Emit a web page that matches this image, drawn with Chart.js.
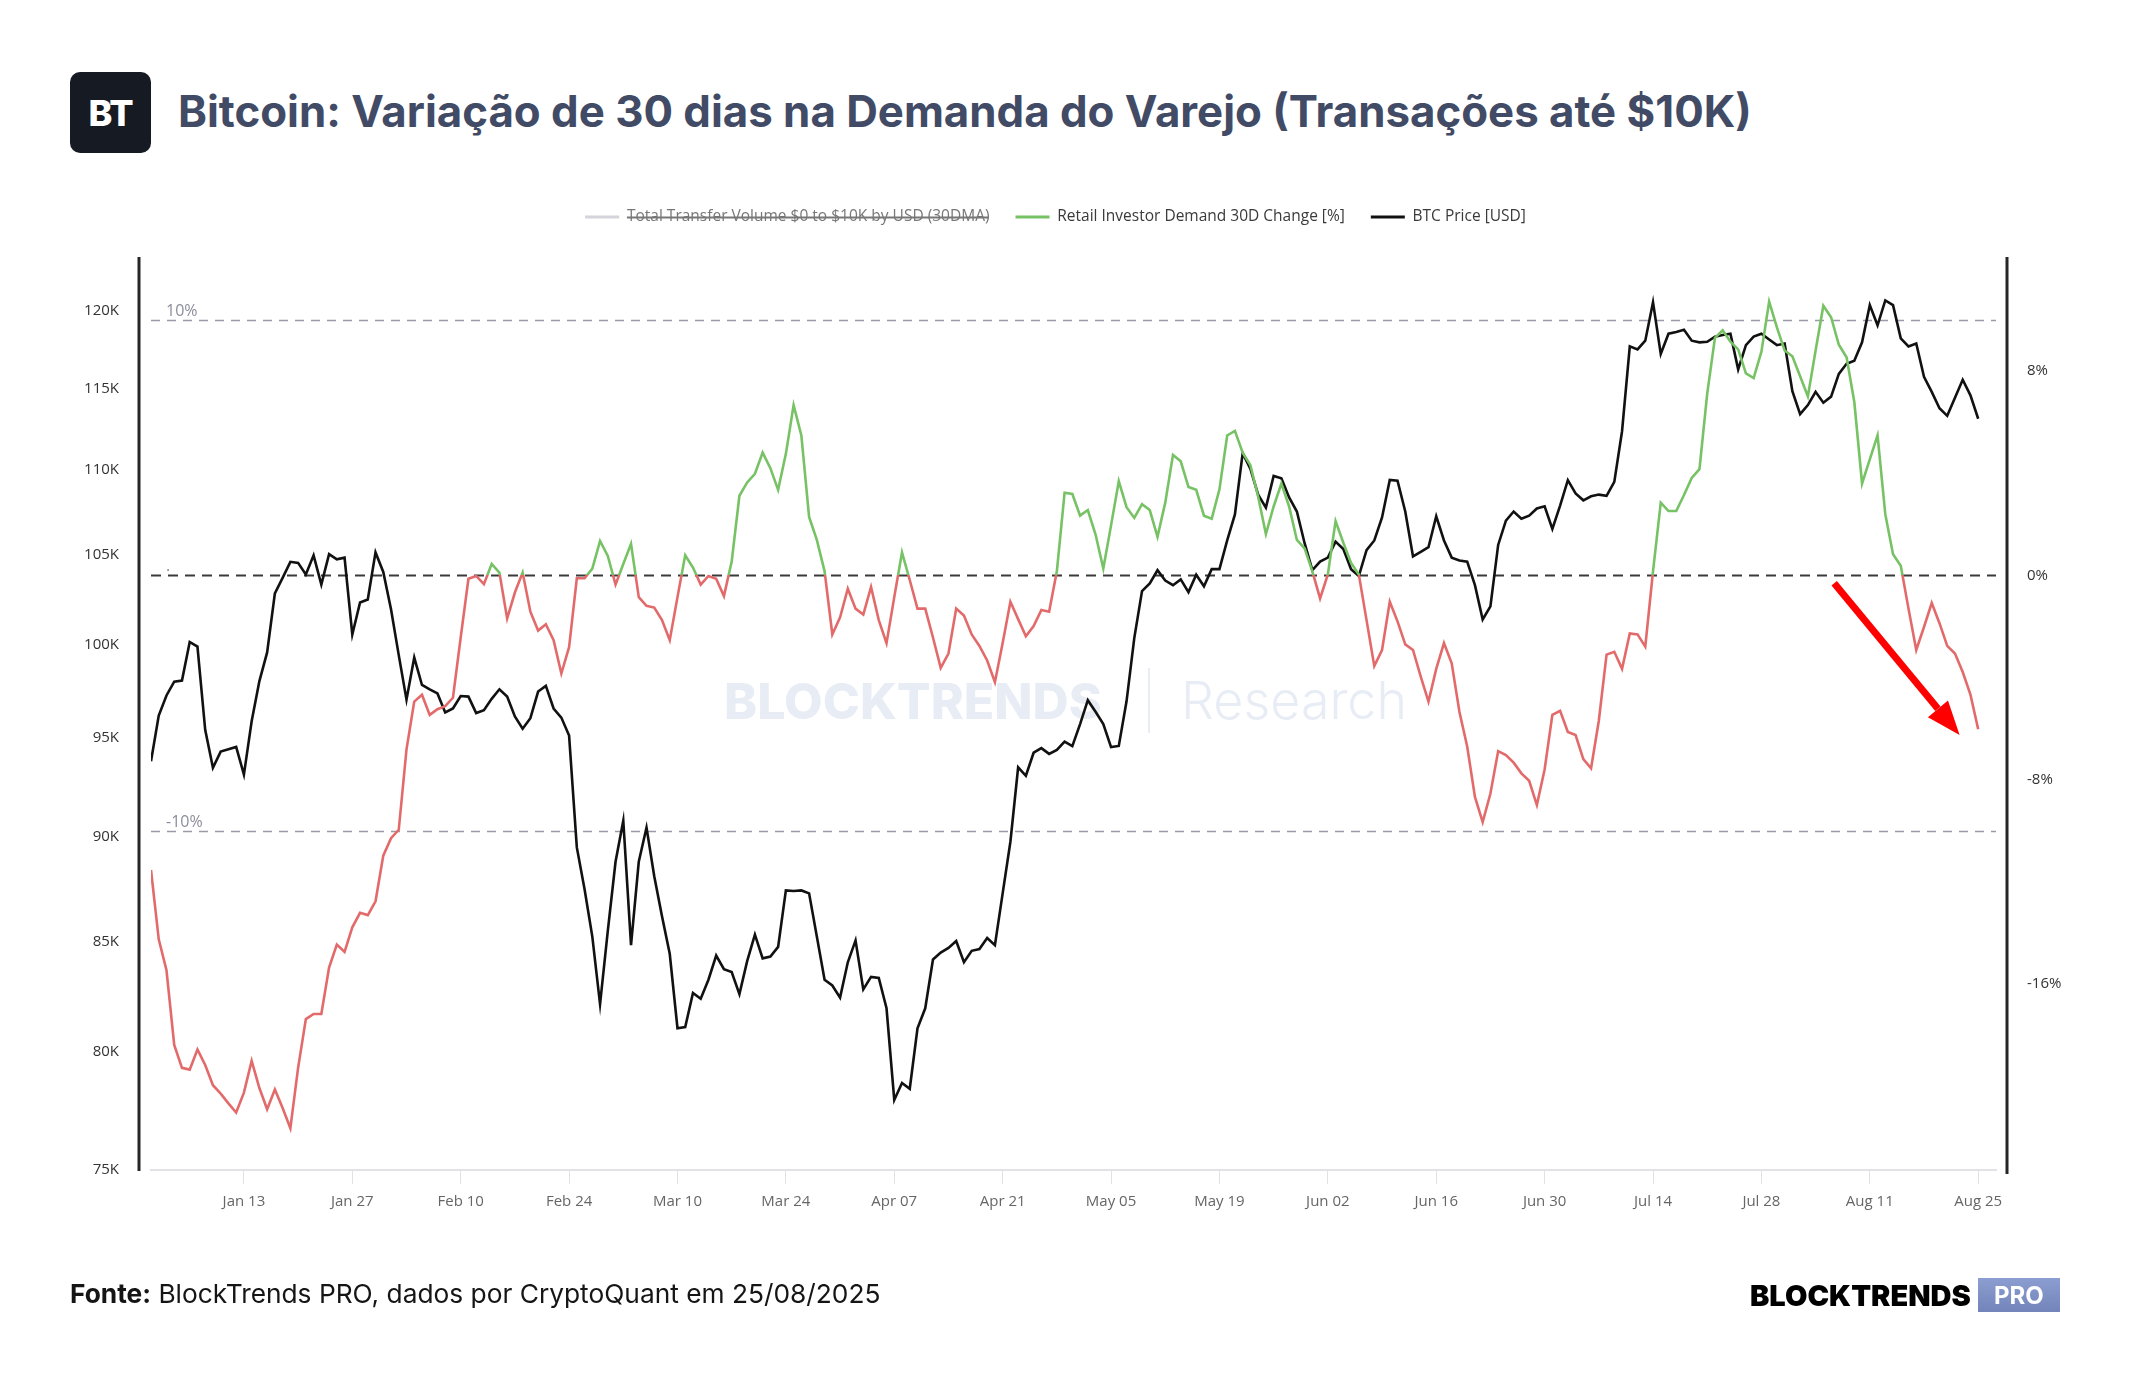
<!DOCTYPE html>
<html lang="pt-BR">
<head>
<meta charset="utf-8">
<title>Bitcoin: Variação de 30 dias na Demanda do Varejo</title>
<script src="https://cdn.jsdelivr.net/npm/chart.js@4.4.1/dist/chart.umd.min.js"></script>
<style>
  html, body { margin: 0; padding: 0; background: #fff; }
  body { width: 2144px; height: 1400px; position: relative; overflow: hidden; font-family: Inter, 'Open Sans', sans-serif; }
  #logo { position: absolute; left: 70px; top: 72px; width: 81px; height: 81px; border-radius: 10px; background: #161a22; color: #fff; font-weight: 800; font-size: 36px; display: flex; align-items: center; justify-content: center; letter-spacing: -1px; }
  #title { position: absolute; left: 178px; top: 82px; height: 60px; line-height: 60px; font-size: 43.8px; font-weight: 700; color: #424b66; white-space: nowrap; }
  .wm { position: absolute; color: #e8edf5; white-space: nowrap; line-height: 60px; }
  #wm1 { left: 724px; top: 671px; font-size: 50px; font-weight: 800; }
  #wmbar { left: 1148px; top: 668px; width: 2px; height: 65px; background: #e8edf5; }
  #wm2 { left: 1181px; top: 671px; font-size: 52px; font-weight: 300; }
  canvas { position: absolute; left: 0; top: 0; }
  #source { position: absolute; left: 70px; top: 1276px; height: 36px; line-height: 36px; font-size: 26.3px; color: #151515; white-space: nowrap; }
  #source b { font-weight: 700; }
  #brand { position: absolute; left: 1750px; top: 1278px; height: 34px; display: flex; align-items: center; }
  #brand .name { font-size: 29px; font-weight: 900; color: #000; letter-spacing: 0; }
  #brand .pro { margin-left: 7px; width: 82px; height: 34px; background: linear-gradient(#8c9dd1, #7384ba); color: #fff; font-size: 24px; font-weight: 700; display: flex; align-items: center; justify-content: center; }
</style>
</head>
<body>
<div id="logo">BT</div>
<div id="title">Bitcoin: Variação de 30 dias na Demanda do Varejo (Transações até $10K)</div>

<div class="wm" id="wm1">BLOCKTRENDS</div>
<div class="wm" id="wmbar"></div>
<div class="wm" id="wm2">Research</div>

<canvas id="chart" width="2144" height="1400"></canvas>

<div id="source"><b>Fonte:</b> BlockTrends PRO, dados por CryptoQuant em 25/08/2025</div>
<div id="brand"><span class="name">BLOCKTRENDS</span><span class="pro">PRO</span></div>

<script>
// daily values, Jan 01 2025 (day 0) to Aug 25 2025 (day 236)
const btcPrice = [
    // Jan
    93800, 96180, 97240, 97980, 98040, 100130, 99880, 95430, 93470, 94300,
    94420, 94540, 93120, 95880, 98010, 99560, 102830, 103700, 104620, 104560,
    103900, 104990, 103320, 105060, 104760, 104860, 100540, 102320, 102480, 105160,
    104040,
    // Feb
    101940, 99410, 97020, 99280, 97800, 97560, 97350, 96340, 96550,
    97210, 97180, 96310, 96460, 97060, 97570, 97180, 96130, 95490, 96040,
    97450, 97750, 96550, 96070, 95130, 89480, 87460, 85220, 82130,
    // Mar
    85490, 88780, 90800, 84820, 88780, 90460, 88080, 86170, 84420, 81050,
    81100, 82630, 82370, 83230, 84340, 83710, 83580, 82580, 84080, 85310,
    84210, 84290, 84740, 87400, 87370, 87400, 87260, 85220, 83230, 82970,
    82420,
    // Apr
    84030, 85040, 82790, 83360, 83310, 81940, 77930, 78660, 78410, 81050,
    81940, 84160, 84480, 84690, 85010, 84030, 84560, 84640, 85150, 84820,
    87260, 89760, 93490, 93060, 94240, 94480, 94180, 94390, 94820, 94580,
    // May
    95730, 96990, 96380, 95730, 94530, 94590, 96930, 100340, 102960, 103390,
    104140, 103550, 103290, 103620, 102900, 103880, 103230, 104200, 104200, 105850,
    107370, 111030, 110080, 108540, 107770, 109650, 109510, 108370, 107540, 105690,
    104140,
    // Jun
    104630, 104860, 105780, 105350, 104200, 103810, 105290, 105850, 107190, 109410,
    109370, 107540, 104930, 105190, 105460, 107260, 105850, 104860, 104700, 104630,
    103290, 101370, 102100, 105590, 107010, 107540, 107120, 107300, 107720, 107850,
    // Jul
    106520, 107890, 109400, 108610, 108200, 108440, 108540, 108470, 109300, 112370,
    117710, 117520, 118080, 120590, 117230, 118530, 118640, 118790, 118080, 117970,
    118010, 118340, 118450, 118530, 116240, 117790, 118340, 118530, 118160, 117790,
    117900,
    // Aug
    114860, 113430, 113990, 114820, 114140, 114520, 115950, 116600, 116790, 117970,
    120400, 119080, 120710, 120400, 118230, 117710, 117900, 115770, 114820, 113790,
    113320, 114450, 115580, 114600, 113140
];

const retailDemand = [
    // Jan
    -11.53, -14.25, -15.46, -18.38, -19.28, -19.35, -18.56, -19.17, -19.96, -20.29,
    -20.67, -21.03, -20.25, -19.01, -20.07, -20.90, -20.13, -20.85, -21.64, -19.28,
    -17.37, -17.17, -17.17, -15.35, -14.45, -14.74, -13.78, -13.21, -13.30, -12.76,
    -10.97,
    // Feb
    -10.29, -9.96, -6.81, -4.94, -4.67, -5.46, -5.24, -5.12, -4.79,
    -2.43, -0.13, -0.02, -0.34, 0.45, 0.11, -1.69, -0.67, 0.11, -1.42,
    -2.16, -1.91, -2.54, -3.84, -2.81, -0.11, -0.11, 0.27, 1.35,
    // Mar
    0.76, -0.36, 0.45, 1.24, -0.85, -1.19, -1.26, -1.75, -2.54, -0.85,
    0.79, 0.31, -0.36, -0.02, -0.13, -0.81, 0.54, 3.12, 3.64, 3.98,
    4.81, 4.20, 3.35, 4.76, 6.67, 5.48, 2.29, 1.39, 0.16, -2.31,
    -1.64,
    // Apr
    -0.52, -1.30, -1.53, -0.45, -1.75, -2.65, -0.85, 0.90, -0.18, -1.30,
    -1.30, -2.43, -3.62, -3.06, -1.30, -1.57, -2.31, -2.76, -3.33, -4.18,
    -2.65, -1.03, -1.71, -2.38, -1.98, -1.35, -1.42, 0.16, 3.24, 3.19,
    // May
    2.34, 2.56, 1.60, 0.27, 1.96, 3.69, 2.67, 2.25, 2.79, 2.56,
    1.51, 2.85, 4.72, 4.47, 3.46, 3.35, 2.34, 2.22, 3.37, 5.48,
    5.66, 4.81, 4.31, 3.08, 1.62, 2.70, 3.60, 2.70, 1.39, 1.06,
    0.16,
    // Jun
    -0.90, 0.04, 2.13, 1.28, 0.49, 0.04, -1.75, -3.55, -2.92, -1.03,
    -1.80, -2.70, -2.92, -3.96, -4.94, -3.66, -2.65, -3.44, -5.35, -6.70,
    -8.67, -9.66, -8.54, -6.88, -7.03, -7.33, -7.75, -8.04, -8.99, -7.60,
    // Jul
    -5.46, -5.30, -6.13, -6.25, -7.19, -7.55, -5.69, -3.10, -2.99, -3.66,
    -2.27, -2.31, -2.79, 0.16, 2.85, 2.52, 2.52, 3.15, 3.82, 4.16,
    7.12, 9.30, 9.60, 9.15, 8.85, 7.91, 7.73, 8.76, 10.72, 9.71,
    8.81,
    // Aug
    8.58, 7.80, 7.01, 8.81, 10.56, 10.11, 9.03, 8.54, 6.79, 3.60,
    4.54, 5.48, 2.40, 0.83, 0.38, -1.30, -2.92, -2.02, -1.08, -1.87,
    -2.76, -3.06, -3.78, -4.67, -6.02
];

// x axis ticks (day index from Jan 01)
const xTickDays = [12, 26, 40, 54, 68, 82, 96, 110, 124, 138, 152, 166, 180, 194, 208, 222, 236];
const xTickLabels = ['Jan 13', 'Jan 27', 'Feb 10', 'Feb 24', 'Mar 10', 'Mar 24', 'Apr 07', 'Apr 21',
    'May 05', 'May 19', 'Jun 02', 'Jun 16', 'Jun 30', 'Jul 14', 'Jul 28', 'Aug 11', 'Aug 25'];
const priceTicks = [75000, 80000, 85000, 90000, 95000, 100000, 105000, 110000, 115000, 120000];
const pctTicks = [-16, -8, 0, 8];
const refLevels = [10, 0, -10];
const refLabels = ['10%', '.', '-10%'];
// red arrow: [day, %] start and tip
const arrowFrom = [217.4, -0.31];
const arrowTo = [233.6, -6.25];

const GREEN = '#76c264';
const RED = '#e36a6a';

Chart.defaults.font.family = "'Open Sans', sans-serif";

function demandColor(context) {
    const chart = context.chart;
    const { ctx, chartArea, scales } = chart;
    if (!chartArea || !scales.y1) return GREEN;
    const zero = scales.y1.getPixelForValue(0);
    let f = (zero - chartArea.top) / (chartArea.bottom - chartArea.top);
    f = Math.min(1, Math.max(0, f));
    const g = ctx.createLinearGradient(0, chartArea.top, 0, chartArea.bottom);
    g.addColorStop(0, GREEN);
    g.addColorStop(f, GREEN);
    g.addColorStop(f, RED);
    g.addColorStop(1, RED);
    return g;
}

// extra room under the legend
const legendGap = {
    id: 'legendGap',
    beforeInit(chart) {
        const fit = chart.legend.fit;
        chart.legend.fit = function () {
            fit.call(this);
            this.height += 25.25;
        };
    }
};

// dashed 10% / 0% / -10% lines
const refLines = {
    id: 'refLines',
    beforeDatasetsDraw(chart) {
        const { ctx, chartArea, scales } = chart;
        ctx.save();
        refLevels.forEach((lvl, i) => {
            const y = Math.round(scales.y1.getPixelForValue(lvl)) + 0.5;
            ctx.beginPath();
            ctx.setLineDash(lvl === 0 ? [10, 7] : [9, 7]);
            ctx.lineWidth = lvl === 0 ? 2 : 1.5;
            ctx.strokeStyle = lvl === 0 ? '#3a3a3a' : '#9a9aa8';
            ctx.moveTo(chartArea.left, y);
            ctx.lineTo(chartArea.right, y);
            ctx.stroke();
            ctx.setLineDash([]);
            ctx.fillStyle = '#8d8d9b';
            ctx.font = "16px 'Open Sans'";
            ctx.textBaseline = 'alphabetic';
            ctx.fillText(refLabels[i], chartArea.left + 15, y - 5);
        });
        ctx.restore();
    }
};

// vertical axis lines, set a little outside the plot area
const axisLines = {
    id: 'axisLines',
    afterDraw(chart) {
        const { ctx, chartArea } = chart;
        ctx.save();
        ctx.strokeStyle = '#262626';
        ctx.lineWidth = 3;
        ctx.beginPath();
        ctx.moveTo(chartArea.left - 12, chartArea.top - 3);
        ctx.lineTo(chartArea.left - 12, chartArea.bottom + 1);
        ctx.moveTo(chartArea.right + 11, chartArea.top - 3);
        ctx.lineTo(chartArea.right + 11, chartArea.bottom + 4);
        ctx.stroke();
        ctx.restore();
    }
};

const trendArrow = {
    id: 'trendArrow',
    afterDatasetsDraw(chart) {
        const { ctx, scales } = chart;
        const x0 = scales.x.getPixelForValue(arrowFrom[0]);
        const y0 = scales.y1.getPixelForValue(arrowFrom[1]);
        const x1 = scales.x.getPixelForValue(arrowTo[0]);
        const y1 = scales.y1.getPixelForValue(arrowTo[1]);
        const ang = Math.atan2(y1 - y0, x1 - x0);
        const head = 34, half = 13;
        const bx = x1 - head * Math.cos(ang);
        const by = y1 - head * Math.sin(ang);
        ctx.save();
        ctx.strokeStyle = '#ff0000';
        ctx.fillStyle = '#ff0000';
        ctx.lineWidth = 7;
        ctx.beginPath();
        ctx.moveTo(x0, y0);
        ctx.lineTo(bx, by);
        ctx.stroke();
        ctx.beginPath();
        ctx.moveTo(x1, y1);
        ctx.lineTo(bx + half * Math.sin(ang), by - half * Math.cos(ang));
        ctx.lineTo(bx - half * Math.sin(ang), by + half * Math.cos(ang));
        ctx.closePath();
        ctx.fill();
        ctx.restore();
    }
};

const ctx = document.getElementById('chart').getContext('2d');
new Chart(ctx, {
    type: 'line',
    data: {
        datasets: [
            {
                label: 'Total Transfer Volume $0 to $10K by USD (30DMA)',
                data: [],
                hidden: true,
                borderColor: '#d4d4da',
                yAxisID: 'y1'
            },
            {
                label: 'Retail Investor Demand 30D Change [%]',
                data: retailDemand.map((v, i) => ({ x: i, y: v })),
                borderColor: demandColor,
                borderWidth: 2.6,
                pointRadius: 0,
                tension: 0,
                yAxisID: 'y1'
            },
            {
                label: 'BTC Price [USD]',
                data: btcPrice.map((v, i) => ({ x: i, y: v })),
                borderColor: '#111111',
                borderWidth: 2.6,
                pointRadius: 0,
                tension: 0,
                yAxisID: 'y'
            }
        ]
    },
    options: {
        responsive: false,
        animation: false,
        events: [],
        layout: { padding: { left: 10, right: 43, top: 183.25, bottom: 170 } },
        plugins: {
            tooltip: { enabled: false },
            legend: {
                position: 'top',
                labels: {
                    usePointStyle: true,
                    pointStyle: 'line',
                    pointStyleWidth: 34,
                    padding: 26,
                    color: '#3a3a3a',
                    font: { size: 15.5 },
                    generateLabels(chart) {
                        const items = Chart.defaults.plugins.legend.labels.generateLabels(chart);
                        items.forEach(it => {
                            it.lineWidth = 3;
                            if (it.hidden) it.fontColor = '#777';
                        });
                        return items;
                    }
                }
            }
        },
        scales: {
            x: {
                type: 'linear',
                min: 0,
                max: 238.3,
                afterBuildTicks: s => { s.ticks = xTickDays.map(v => ({ value: v })); },
                afterFit: s => { s.height = 60; },
                grid: { drawOnChartArea: false, drawTicks: true, tickLength: 14, color: '#e2e2e6', lineWidth: 1 },
                border: { display: true, color: '#e2e2e6', width: 2 },
                ticks: {
                    padding: 9,
                    color: '#666',
                    font: { size: 15 },
                    maxRotation: 0,
                    autoSkip: false,
                    callback: v => xTickLabels[xTickDays.indexOf(v)]
                }
            },
            y: {
                type: 'logarithmic',
                position: 'left',
                min: 75000,
                max: 123410,
                afterBuildTicks: s => { s.ticks = priceTicks.map(v => ({ value: v })); },
                afterFit: s => { s.width = 141; },
                grid: { display: false, drawTicks: false },
                border: { display: false },
                ticks: {
                    padding: 32,
                    color: '#333',
                    font: { size: 15 },
                    autoSkip: false,
                    callback: v => (v / 1000) + 'K'
                }
            },
            y1: {
                type: 'linear',
                position: 'right',
                min: -23.28,
                max: 12.35,
                afterBuildTicks: s => { s.ticks = pctTicks.map(v => ({ value: v })); },
                afterFit: s => { s.width = 105; },
                grid: { display: false, drawTicks: false },
                border: { display: false },
                ticks: {
                    padding: 31,
                    color: '#333',
                    font: { size: 15 },
                    autoSkip: false,
                    callback: v => v + '%'
                }
            }
        }
    },
    plugins: [legendGap, refLines, axisLines, trendArrow]
});
</script>
</body>
</html>
